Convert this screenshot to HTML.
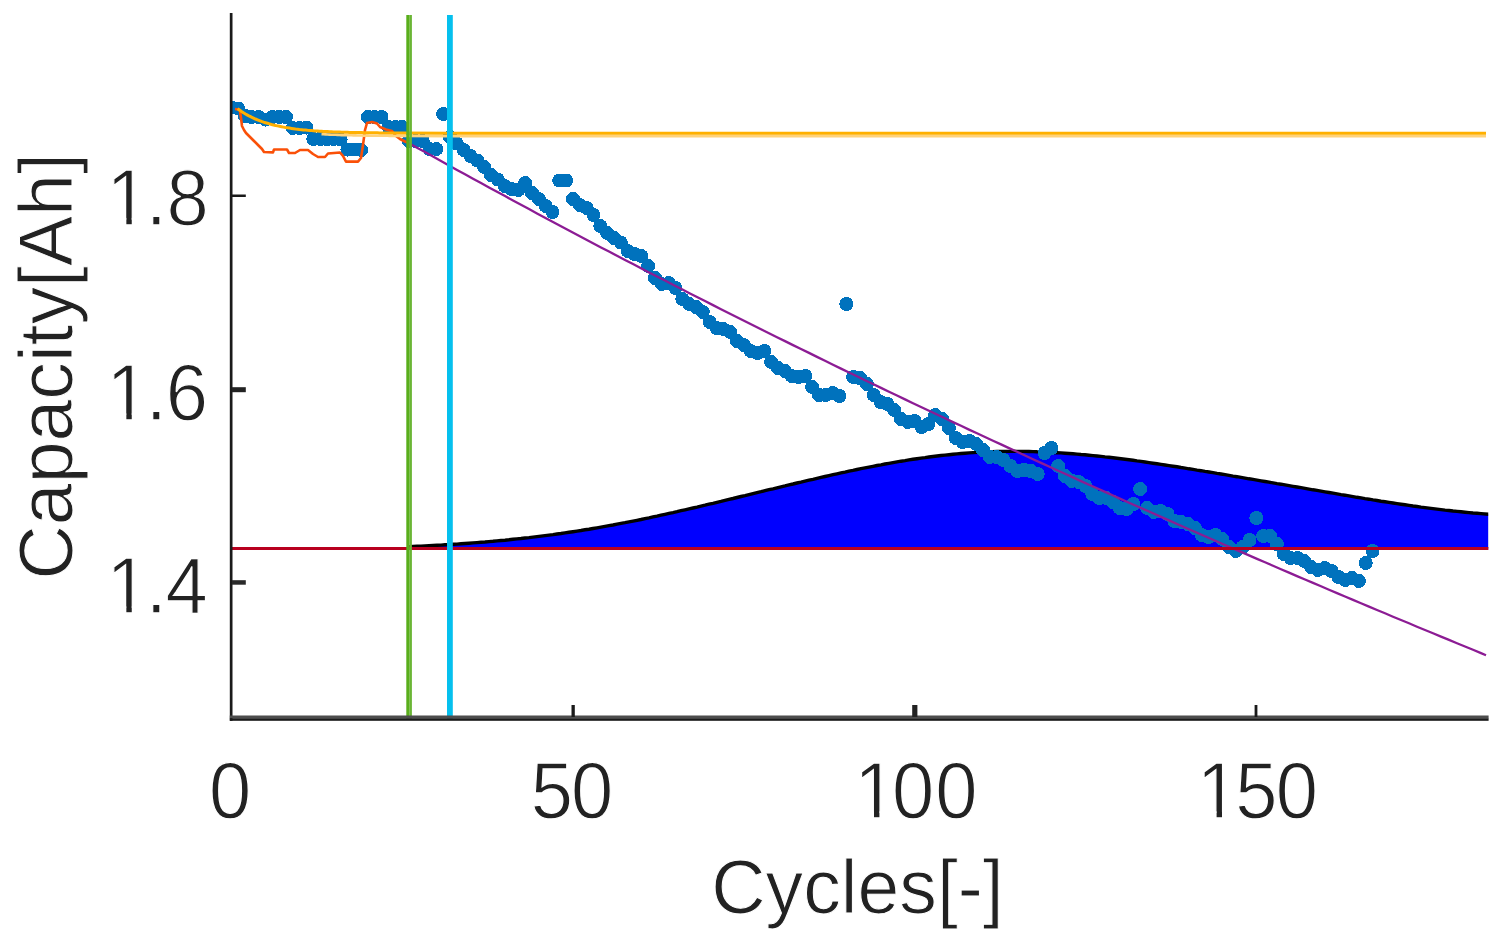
<!DOCTYPE html>
<html><head><meta charset="utf-8"><title>Capacity vs Cycles</title>
<style>html,body{margin:0;padding:0;background:#fff;}body{width:1508px;height:948px;overflow:hidden;}svg{display:block;}</style>
</head><body>
<svg width="1508" height="948" viewBox="0 0 1508 948">
<defs><clipPath id="ax"><rect x="230" y="13" width="1258.5" height="706"/></clipPath></defs>
<rect width="1508" height="948" fill="#ffffff"/>
<g clip-path="url(#ax)">
<path d="M409,548.5 L409.0,546.6 L413.0,546.4 L417.0,546.2 L421.0,546.1 L425.0,545.9 L429.0,545.7 L433.0,545.5 L437.0,545.3 L441.0,545.1 L445.0,544.8 L449.0,544.6 L453.0,544.3 L457.0,544.1 L461.0,543.8 L465.0,543.5 L469.0,543.2 L473.0,542.9 L477.0,542.6 L481.0,542.3 L485.0,542.0 L489.0,541.6 L493.0,541.3 L497.0,540.9 L501.0,540.5 L505.0,540.2 L509.0,539.8 L513.0,539.3 L517.0,538.9 L521.0,538.5 L525.0,538.0 L529.0,537.6 L533.0,537.1 L537.0,536.6 L541.0,536.1 L545.0,535.6 L549.0,535.1 L553.0,534.6 L557.0,534.0 L561.0,533.5 L565.0,532.9 L569.0,532.3 L573.0,531.7 L577.0,531.1 L581.0,530.5 L585.0,529.8 L589.0,529.2 L593.0,528.5 L597.0,527.8 L601.0,527.1 L605.0,526.4 L609.0,525.7 L613.0,525.0 L617.0,524.2 L621.0,523.4 L625.0,522.7 L629.0,521.9 L633.0,521.1 L637.0,520.3 L641.0,519.5 L645.0,518.6 L649.0,517.8 L653.0,516.9 L657.0,516.1 L661.0,515.2 L665.0,514.3 L669.0,513.4 L673.0,512.6 L677.0,511.7 L681.0,510.7 L685.0,509.8 L689.0,508.9 L693.0,508.0 L697.0,507.1 L701.0,506.1 L705.0,505.2 L709.0,504.2 L713.0,503.3 L717.0,502.3 L721.0,501.4 L725.0,500.4 L729.0,499.4 L733.0,498.5 L737.0,497.5 L741.0,496.5 L745.0,495.6 L749.0,494.6 L753.0,493.6 L757.0,492.6 L761.0,491.7 L765.0,490.7 L769.0,489.7 L773.0,488.8 L777.0,487.8 L781.0,486.8 L785.0,485.9 L789.0,484.9 L793.0,484.0 L797.0,483.0 L801.0,482.1 L805.0,481.1 L809.0,480.2 L813.0,479.3 L817.0,478.3 L821.0,477.4 L825.0,476.5 L829.0,475.6 L833.0,474.7 L837.0,473.8 L841.0,472.9 L845.0,472.1 L849.0,471.2 L853.0,470.4 L857.0,469.5 L861.0,468.7 L865.0,467.9 L869.0,467.1 L873.0,466.3 L877.0,465.5 L881.0,464.8 L885.0,464.0 L889.0,463.3 L893.0,462.6 L897.0,461.9 L901.0,461.2 L905.0,460.6 L909.0,459.9 L913.0,459.3 L917.0,458.7 L921.0,458.1 L925.0,457.6 L929.0,457.0 L933.0,456.5 L937.0,456.0 L941.0,455.5 L945.0,455.1 L949.0,454.7 L953.0,454.3 L957.0,453.9 L961.0,453.5 L965.0,453.2 L969.0,452.9 L973.0,452.6 L977.0,452.4 L981.0,452.2 L985.0,452.0 L989.0,451.8 L993.0,451.7 L997.0,451.5 L1001.0,451.5 L1005.0,451.4 L1009.0,451.4 L1013.0,451.3 L1017.0,451.4 L1021.0,451.4 L1025.0,451.4 L1029.0,451.5 L1033.0,451.6 L1037.0,451.8 L1041.0,451.9 L1045.0,452.1 L1049.0,452.3 L1053.0,452.5 L1057.0,452.7 L1061.0,452.9 L1065.0,453.2 L1069.0,453.5 L1073.0,453.8 L1077.0,454.1 L1081.0,454.5 L1085.0,454.8 L1089.0,455.2 L1093.0,455.6 L1097.0,456.0 L1101.0,456.4 L1105.0,456.9 L1109.0,457.3 L1113.0,457.8 L1117.0,458.3 L1121.0,458.8 L1125.0,459.3 L1129.0,459.8 L1133.0,460.3 L1137.0,460.9 L1141.0,461.4 L1145.0,462.0 L1149.0,462.6 L1153.0,463.2 L1157.0,463.8 L1161.0,464.4 L1165.0,465.0 L1169.0,465.6 L1173.0,466.2 L1177.0,466.8 L1181.0,467.5 L1185.0,468.1 L1189.0,468.8 L1193.0,469.4 L1197.0,470.1 L1201.0,470.7 L1205.0,471.4 L1209.0,472.0 L1213.0,472.7 L1217.0,473.4 L1221.0,474.0 L1225.0,474.7 L1229.0,475.4 L1233.0,476.1 L1237.0,476.7 L1241.0,477.4 L1245.0,478.1 L1249.0,478.8 L1253.0,479.4 L1257.0,480.1 L1261.0,480.8 L1265.0,481.5 L1269.0,482.2 L1273.0,482.9 L1277.0,483.6 L1281.0,484.2 L1285.0,484.9 L1289.0,485.6 L1293.0,486.3 L1297.0,487.0 L1301.0,487.7 L1305.0,488.4 L1309.0,489.1 L1313.0,489.8 L1317.0,490.4 L1321.0,491.1 L1325.0,491.8 L1329.0,492.5 L1333.0,493.2 L1337.0,493.9 L1341.0,494.6 L1345.0,495.2 L1349.0,495.9 L1353.0,496.6 L1357.0,497.3 L1361.0,497.9 L1365.0,498.6 L1369.0,499.2 L1373.0,499.9 L1377.0,500.5 L1381.0,501.2 L1385.0,501.8 L1389.0,502.4 L1393.0,503.0 L1397.0,503.6 L1401.0,504.2 L1405.0,504.8 L1409.0,505.4 L1413.0,506.0 L1417.0,506.5 L1421.0,507.1 L1425.0,507.6 L1429.0,508.1 L1433.0,508.6 L1437.0,509.1 L1441.0,509.6 L1445.0,510.1 L1449.0,510.5 L1453.0,511.0 L1457.0,511.4 L1461.0,511.8 L1465.0,512.2 L1469.0,512.6 L1473.0,513.0 L1477.0,513.3 L1481.0,513.6 L1488.4,514.2 L1488.4,548.5 Z" fill="#0000ff"/>
<path d="M409.0,546.6 L413.0,546.4 L417.0,546.2 L421.0,546.1 L425.0,545.9 L429.0,545.7 L433.0,545.5 L437.0,545.3 L441.0,545.1 L445.0,544.8 L449.0,544.6 L453.0,544.3 L457.0,544.1 L461.0,543.8 L465.0,543.5 L469.0,543.2 L473.0,542.9 L477.0,542.6 L481.0,542.3 L485.0,542.0 L489.0,541.6 L493.0,541.3 L497.0,540.9 L501.0,540.5 L505.0,540.2 L509.0,539.8 L513.0,539.3 L517.0,538.9 L521.0,538.5 L525.0,538.0 L529.0,537.6 L533.0,537.1 L537.0,536.6 L541.0,536.1 L545.0,535.6 L549.0,535.1 L553.0,534.6 L557.0,534.0 L561.0,533.5 L565.0,532.9 L569.0,532.3 L573.0,531.7 L577.0,531.1 L581.0,530.5 L585.0,529.8 L589.0,529.2 L593.0,528.5 L597.0,527.8 L601.0,527.1 L605.0,526.4 L609.0,525.7 L613.0,525.0 L617.0,524.2 L621.0,523.4 L625.0,522.7 L629.0,521.9 L633.0,521.1 L637.0,520.3 L641.0,519.5 L645.0,518.6 L649.0,517.8 L653.0,516.9 L657.0,516.1 L661.0,515.2 L665.0,514.3 L669.0,513.4 L673.0,512.6 L677.0,511.7 L681.0,510.7 L685.0,509.8 L689.0,508.9 L693.0,508.0 L697.0,507.1 L701.0,506.1 L705.0,505.2 L709.0,504.2 L713.0,503.3 L717.0,502.3 L721.0,501.4 L725.0,500.4 L729.0,499.4 L733.0,498.5 L737.0,497.5 L741.0,496.5 L745.0,495.6 L749.0,494.6 L753.0,493.6 L757.0,492.6 L761.0,491.7 L765.0,490.7 L769.0,489.7 L773.0,488.8 L777.0,487.8 L781.0,486.8 L785.0,485.9 L789.0,484.9 L793.0,484.0 L797.0,483.0 L801.0,482.1 L805.0,481.1 L809.0,480.2 L813.0,479.3 L817.0,478.3 L821.0,477.4 L825.0,476.5 L829.0,475.6 L833.0,474.7 L837.0,473.8 L841.0,472.9 L845.0,472.1 L849.0,471.2 L853.0,470.4 L857.0,469.5 L861.0,468.7 L865.0,467.9 L869.0,467.1 L873.0,466.3 L877.0,465.5 L881.0,464.8 L885.0,464.0 L889.0,463.3 L893.0,462.6 L897.0,461.9 L901.0,461.2 L905.0,460.6 L909.0,459.9 L913.0,459.3 L917.0,458.7 L921.0,458.1 L925.0,457.6 L929.0,457.0 L933.0,456.5 L937.0,456.0 L941.0,455.5 L945.0,455.1 L949.0,454.7 L953.0,454.3 L957.0,453.9 L961.0,453.5 L965.0,453.2 L969.0,452.9 L973.0,452.6 L977.0,452.4 L981.0,452.2 L985.0,452.0 L989.0,451.8 L993.0,451.7 L997.0,451.5 L1001.0,451.5 L1005.0,451.4 L1009.0,451.4 L1013.0,451.3 L1017.0,451.4 L1021.0,451.4 L1025.0,451.4 L1029.0,451.5 L1033.0,451.6 L1037.0,451.8 L1041.0,451.9 L1045.0,452.1 L1049.0,452.3 L1053.0,452.5 L1057.0,452.7 L1061.0,452.9 L1065.0,453.2 L1069.0,453.5 L1073.0,453.8 L1077.0,454.1 L1081.0,454.5 L1085.0,454.8 L1089.0,455.2 L1093.0,455.6 L1097.0,456.0 L1101.0,456.4 L1105.0,456.9 L1109.0,457.3 L1113.0,457.8 L1117.0,458.3 L1121.0,458.8 L1125.0,459.3 L1129.0,459.8 L1133.0,460.3 L1137.0,460.9 L1141.0,461.4 L1145.0,462.0 L1149.0,462.6 L1153.0,463.2 L1157.0,463.8 L1161.0,464.4 L1165.0,465.0 L1169.0,465.6 L1173.0,466.2 L1177.0,466.8 L1181.0,467.5 L1185.0,468.1 L1189.0,468.8 L1193.0,469.4 L1197.0,470.1 L1201.0,470.7 L1205.0,471.4 L1209.0,472.0 L1213.0,472.7 L1217.0,473.4 L1221.0,474.0 L1225.0,474.7 L1229.0,475.4 L1233.0,476.1 L1237.0,476.7 L1241.0,477.4 L1245.0,478.1 L1249.0,478.8 L1253.0,479.4 L1257.0,480.1 L1261.0,480.8 L1265.0,481.5 L1269.0,482.2 L1273.0,482.9 L1277.0,483.6 L1281.0,484.2 L1285.0,484.9 L1289.0,485.6 L1293.0,486.3 L1297.0,487.0 L1301.0,487.7 L1305.0,488.4 L1309.0,489.1 L1313.0,489.8 L1317.0,490.4 L1321.0,491.1 L1325.0,491.8 L1329.0,492.5 L1333.0,493.2 L1337.0,493.9 L1341.0,494.6 L1345.0,495.2 L1349.0,495.9 L1353.0,496.6 L1357.0,497.3 L1361.0,497.9 L1365.0,498.6 L1369.0,499.2 L1373.0,499.9 L1377.0,500.5 L1381.0,501.2 L1385.0,501.8 L1389.0,502.4 L1393.0,503.0 L1397.0,503.6 L1401.0,504.2 L1405.0,504.8 L1409.0,505.4 L1413.0,506.0 L1417.0,506.5 L1421.0,507.1 L1425.0,507.6 L1429.0,508.1 L1433.0,508.6 L1437.0,509.1 L1441.0,509.6 L1445.0,510.1 L1449.0,510.5 L1453.0,511.0 L1457.0,511.4 L1461.0,511.8 L1465.0,512.2 L1469.0,512.6 L1473.0,513.0 L1477.0,513.3 L1481.0,513.6 L1488.4,514.2" fill="none" stroke="#000000" stroke-width="3.4"/>
<g fill="#0072bd" shape-rendering="crispEdges"><circle cx="231.3" cy="107.5" r="7.0"/><circle cx="238.1" cy="108.5" r="7.0"/><circle cx="245.0" cy="116.0" r="7.0"/><circle cx="251.8" cy="117.0" r="7.0"/><circle cx="258.6" cy="117.0" r="7.0"/><circle cx="265.5" cy="119.5" r="7.0"/><circle cx="272.3" cy="117.0" r="7.0"/><circle cx="279.1" cy="117.0" r="7.0"/><circle cx="286.0" cy="117.0" r="7.0"/><circle cx="292.8" cy="128.0" r="7.0"/><circle cx="299.6" cy="128.0" r="7.0"/><circle cx="306.5" cy="127.5" r="7.0"/><circle cx="313.3" cy="139.0" r="7.0"/><circle cx="320.1" cy="139.0" r="7.0"/><circle cx="327.0" cy="139.0" r="7.0"/><circle cx="333.8" cy="139.0" r="7.0"/><circle cx="340.6" cy="139.5" r="7.0"/><circle cx="347.5" cy="149.5" r="7.0"/><circle cx="354.3" cy="149.5" r="7.0"/><circle cx="361.1" cy="150.0" r="7.0"/><circle cx="368.0" cy="117.0" r="7.0"/><circle cx="374.8" cy="117.0" r="7.0"/><circle cx="381.6" cy="117.0" r="7.0"/><circle cx="388.5" cy="127.0" r="7.0"/><circle cx="395.3" cy="127.0" r="7.0"/><circle cx="402.1" cy="127.0" r="7.0"/><circle cx="409.0" cy="141.0" r="7.0"/><circle cx="415.8" cy="141.0" r="7.0"/><circle cx="422.7" cy="141.0" r="7.0"/><circle cx="429.5" cy="149.0" r="7.0"/><circle cx="436.3" cy="149.0" r="7.0"/><circle cx="443.2" cy="114.0" r="7.0"/><circle cx="450.0" cy="137.0" r="7.0"/><circle cx="456.8" cy="143.5" r="7.0"/><circle cx="463.7" cy="150.0" r="7.0"/><circle cx="470.5" cy="156.0" r="7.0"/><circle cx="477.3" cy="160.5" r="7.0"/><circle cx="484.2" cy="167.0" r="7.0"/><circle cx="491.0" cy="175.0" r="7.0"/><circle cx="497.8" cy="179.5" r="7.0"/><circle cx="504.7" cy="186.0" r="7.0"/><circle cx="511.5" cy="189.0" r="7.0"/><circle cx="518.3" cy="190.0" r="7.0"/><circle cx="525.2" cy="183.0" r="7.0"/><circle cx="532.0" cy="193.0" r="7.0"/><circle cx="538.8" cy="199.0" r="7.0"/><circle cx="545.7" cy="206.0" r="7.0"/><circle cx="552.5" cy="212.0" r="7.0"/><circle cx="559.3" cy="180.5" r="7.0"/><circle cx="566.2" cy="180.5" r="7.0"/><circle cx="573.0" cy="199.0" r="7.0"/><circle cx="579.8" cy="205.0" r="7.0"/><circle cx="586.7" cy="208.0" r="7.0"/><circle cx="593.5" cy="215.0" r="7.0"/><circle cx="600.3" cy="226.0" r="7.0"/><circle cx="607.2" cy="233.0" r="7.0"/><circle cx="614.0" cy="238.0" r="7.0"/><circle cx="620.8" cy="242.5" r="7.0"/><circle cx="627.7" cy="251.0" r="7.0"/><circle cx="634.5" cy="254.0" r="7.0"/><circle cx="641.3" cy="256.0" r="7.0"/><circle cx="648.2" cy="266.0" r="7.0"/><circle cx="655.0" cy="278.0" r="7.0"/><circle cx="661.8" cy="284.0" r="7.0"/><circle cx="668.7" cy="283.0" r="7.0"/><circle cx="675.5" cy="288.0" r="7.0"/><circle cx="682.3" cy="299.0" r="7.0"/><circle cx="689.2" cy="304.0" r="7.0"/><circle cx="696.0" cy="307.0" r="7.0"/><circle cx="702.8" cy="312.0" r="7.0"/><circle cx="709.7" cy="322.0" r="7.0"/><circle cx="716.5" cy="328.0" r="7.0"/><circle cx="723.3" cy="329.0" r="7.0"/><circle cx="730.2" cy="332.0" r="7.0"/><circle cx="737.0" cy="341.0" r="7.0"/><circle cx="743.8" cy="345.0" r="7.0"/><circle cx="750.7" cy="351.0" r="7.0"/><circle cx="757.5" cy="353.0" r="7.0"/><circle cx="764.4" cy="351.0" r="7.0"/><circle cx="771.2" cy="362.0" r="7.0"/><circle cx="778.0" cy="368.0" r="7.0"/><circle cx="784.9" cy="371.0" r="7.0"/><circle cx="791.7" cy="376.0" r="7.0"/><circle cx="798.5" cy="377.0" r="7.0"/><circle cx="805.4" cy="376.0" r="7.0"/><circle cx="812.2" cy="387.0" r="7.0"/><circle cx="819.0" cy="395.0" r="7.0"/><circle cx="825.9" cy="395.0" r="7.0"/><circle cx="832.7" cy="393.0" r="7.0"/><circle cx="839.5" cy="396.0" r="7.0"/><circle cx="846.4" cy="304.0" r="7.0"/><circle cx="853.2" cy="377.0" r="7.0"/><circle cx="860.0" cy="378.0" r="7.0"/><circle cx="866.9" cy="384.0" r="7.0"/><circle cx="873.7" cy="395.0" r="7.0"/><circle cx="880.5" cy="402.0" r="7.0"/><circle cx="887.4" cy="404.0" r="7.0"/><circle cx="894.2" cy="410.0" r="7.0"/><circle cx="901.0" cy="419.0" r="7.0"/><circle cx="907.9" cy="422.0" r="7.0"/><circle cx="914.7" cy="421.0" r="7.0"/><circle cx="921.5" cy="427.0" r="7.0"/><circle cx="928.4" cy="424.0" r="7.0"/><circle cx="935.2" cy="415.0" r="7.0"/><circle cx="942.0" cy="419.0" r="7.0"/><circle cx="948.9" cy="428.0" r="7.0"/><circle cx="955.7" cy="438.0" r="7.0"/><circle cx="962.5" cy="442.0" r="7.0"/><circle cx="969.4" cy="441.0" r="7.0"/><circle cx="976.2" cy="444.0" r="7.0"/><circle cx="983.0" cy="450.0" r="7.0"/><circle cx="989.9" cy="457.0" r="7.0"/><circle cx="996.7" cy="457.0" r="7.0"/><circle cx="1003.5" cy="460.0" r="7.0"/><circle cx="1010.4" cy="466.0" r="7.0"/><circle cx="1017.2" cy="471.0" r="7.0"/><circle cx="1024.0" cy="470.0" r="7.0"/><circle cx="1030.9" cy="471.0" r="7.0"/><circle cx="1037.7" cy="474.0" r="7.0"/><circle cx="1044.5" cy="453.0" r="7.0"/><circle cx="1051.4" cy="448.0" r="7.0"/><circle cx="1058.2" cy="466.0" r="7.0"/><circle cx="1065.0" cy="476.0" r="7.0"/><circle cx="1071.9" cy="481.0" r="7.0"/><circle cx="1078.7" cy="482.0" r="7.0"/><circle cx="1085.5" cy="486.0" r="7.0"/><circle cx="1092.4" cy="494.0" r="7.0"/><circle cx="1099.2" cy="498.0" r="7.0"/><circle cx="1106.1" cy="498.0" r="7.0"/><circle cx="1112.9" cy="502.0" r="7.0"/><circle cx="1119.7" cy="508.0" r="7.0"/><circle cx="1126.6" cy="509.0" r="7.0"/><circle cx="1133.4" cy="504.0" r="7.0"/><circle cx="1140.2" cy="489.0" r="7.0"/><circle cx="1147.1" cy="508.0" r="7.0"/><circle cx="1153.9" cy="512.0" r="7.0"/><circle cx="1160.7" cy="511.0" r="7.0"/><circle cx="1167.6" cy="514.0" r="7.0"/><circle cx="1174.4" cy="521.0" r="7.0"/><circle cx="1181.2" cy="522.0" r="7.0"/><circle cx="1188.1" cy="524.0" r="7.0"/><circle cx="1194.9" cy="528.0" r="7.0"/><circle cx="1201.7" cy="535.0" r="7.0"/><circle cx="1208.6" cy="537.0" r="7.0"/><circle cx="1215.4" cy="535.0" r="7.0"/><circle cx="1222.2" cy="539.0" r="7.0"/><circle cx="1229.1" cy="547.0" r="7.0"/><circle cx="1235.9" cy="551.0" r="7.0"/><circle cx="1242.7" cy="547.0" r="7.0"/><circle cx="1249.6" cy="540.0" r="7.0"/><circle cx="1256.4" cy="518.0" r="7.0"/><circle cx="1263.2" cy="536.0" r="7.0"/><circle cx="1270.1" cy="536.0" r="7.0"/><circle cx="1276.9" cy="544.0" r="7.0"/><circle cx="1283.7" cy="554.0" r="7.0"/><circle cx="1290.6" cy="558.0" r="7.0"/><circle cx="1297.4" cy="558.0" r="7.0"/><circle cx="1304.2" cy="561.0" r="7.0"/><circle cx="1311.1" cy="567.0" r="7.0"/><circle cx="1317.9" cy="570.0" r="7.0"/><circle cx="1324.7" cy="568.0" r="7.0"/><circle cx="1331.6" cy="571.0" r="7.0"/><circle cx="1338.4" cy="577.0" r="7.0"/><circle cx="1345.2" cy="580.0" r="7.0"/><circle cx="1352.1" cy="578.0" r="7.0"/><circle cx="1358.9" cy="581.0" r="7.0"/><circle cx="1365.7" cy="563.0" r="7.0"/><circle cx="1372.6" cy="551.0" r="7.0"/></g>
<path d="M235.0,109.0 L238.5,109.5 L240.0,111.0 L241.0,118.0 L242.0,126.0 L244.0,130.0 L246.0,133.0 L250.0,137.0 L254.0,141.0 L258.0,145.0 L262.0,149.0 L264.0,152.0 L273.0,152.4 L274.0,149.5 L287.0,149.5 L289.0,153.0 L295.0,153.0 L300.0,150.0 L308.0,150.0 L313.0,154.0 L318.0,157.0 L325.0,157.0 L328.0,153.5 L340.0,152.5 L343.0,156.0 L346.0,161.6 L358.0,161.6 L361.0,158.0 L363.0,145.0 L365.0,130.0 L367.0,123.0 L372.0,122.0 L377.0,123.5 L380.0,127.0 L386.0,129.5 L392.0,131.0 L396.0,136.0 L400.0,139.0 L405.0,141.5 L409.0,143.0" fill="none" stroke="#fa5008" stroke-width="2.6" stroke-linejoin="round"/>
<path d="M321.5,134.2 L323.5,134.3 L325.5,134.4 L327.5,134.5 L329.5,134.6 L331.5,134.7 L333.5,134.8 L335.5,134.8 L337.5,134.9 L339.5,135.0 L341.5,135.1 L343.5,135.1 L345.5,135.2 L347.5,135.2 L349.5,135.3 L351.5,135.3 L353.5,135.4 L355.5,135.4 L357.5,135.5 L359.5,135.5 L361.5,135.5 L363.5,135.6 L365.5,135.6 L367.5,135.6 L369.5,135.7 L371.5,135.7 L373.5,135.7 L375.5,135.7 L377.5,135.7 L379.5,135.8 L381.5,135.8 L383.5,135.8 L385.5,135.8 L387.5,135.8 L389.5,135.9 L391.5,135.9 L393.5,135.9 L395.5,135.9 L397.5,135.9 L399.5,135.9 L401.5,135.9 L451.5,136.1 L501.5,136.1 L551.5,136.1 L601.5,136.1 L651.5,136.1 L701.5,136.1 L751.5,136.1 L801.5,136.1 L851.5,136.1 L901.5,136.1 L951.5,136.1 L1001.5,136.1 L1051.5,136.1 L1101.5,136.1 L1151.5,136.1 L1201.5,136.1 L1251.5,136.1 L1301.5,136.1 L1351.5,136.1 L1401.5,136.1 L1451.5,136.1 L1486.0,136.1" fill="none" stroke="#ffd27a" stroke-width="2.6"/>
<path d="M237.5,108.7 L239.5,110.1 L241.5,111.5 L243.5,112.8 L245.5,114.0 L247.5,115.1 L249.5,116.2 L251.5,117.2 L253.5,118.1 L255.5,119.0 L257.5,119.8 L259.5,120.6 L261.5,121.4 L263.5,122.1 L265.5,122.7 L267.5,123.3 L269.5,123.9 L271.5,124.5 L273.5,125.0 L275.5,125.5 L277.5,125.9 L279.5,126.3 L281.5,126.7 L283.5,127.1 L285.5,127.5 L287.5,127.8 L289.5,128.1 L291.5,128.4 L293.5,128.7 L295.5,129.0 L297.5,129.2 L299.5,129.5 L301.5,129.7 L303.5,129.9 L305.5,130.1 L307.5,130.3 L309.5,130.4 L311.5,130.6 L313.5,130.8 L315.5,130.9 L317.5,131.0 L319.5,131.2 L321.5,131.3 L323.5,131.4 L325.5,131.5 L327.5,131.6 L329.5,131.7 L331.5,131.8 L333.5,131.9 L335.5,131.9 L337.5,132.0 L339.5,132.1 L341.5,132.2 L343.5,132.2 L345.5,132.3 L347.5,132.3 L349.5,132.4 L351.5,132.4 L353.5,132.5 L355.5,132.5 L357.5,132.6 L359.5,132.6 L361.5,132.6 L363.5,132.7 L365.5,132.7 L367.5,132.7 L369.5,132.8 L371.5,132.8 L373.5,132.8 L375.5,132.8 L377.5,132.8 L379.5,132.9 L381.5,132.9 L383.5,132.9 L385.5,132.9 L387.5,132.9 L389.5,133.0 L391.5,133.0 L393.5,133.0 L395.5,133.0 L397.5,133.0 L399.5,133.0 L401.5,133.0 L451.5,133.2 L501.5,133.2 L551.5,133.2 L601.5,133.2 L651.5,133.2 L701.5,133.2 L751.5,133.2 L801.5,133.2 L851.5,133.2 L901.5,133.2 L951.5,133.2 L1001.5,133.2 L1051.5,133.2 L1101.5,133.2 L1151.5,133.2 L1201.5,133.2 L1251.5,133.2 L1301.5,133.2 L1351.5,133.2 L1401.5,133.2 L1451.5,133.2 L1486.0,133.2" fill="none" stroke="#ffb000" stroke-width="3"/>
<path d="M409.0,143.2 L417.0,147.7 L425.0,152.1 L433.0,156.6 L441.0,161.0 L449.0,165.5 L457.0,169.9 L465.0,174.3 L473.0,178.7 L481.0,183.1 L489.0,187.4 L497.0,191.8 L505.0,196.1 L513.0,200.5 L521.0,204.8 L529.0,209.1 L537.0,213.4 L545.0,217.7 L553.0,222.0 L561.0,226.2 L569.0,230.5 L577.0,234.7 L585.0,239.0 L593.0,243.2 L601.0,247.4 L609.0,251.6 L617.0,255.8 L625.0,259.9 L633.0,264.1 L641.0,268.2 L649.0,272.4 L657.0,276.5 L665.0,280.6 L673.0,284.7 L681.0,288.8 L689.0,292.9 L697.0,297.0 L705.0,301.1 L713.0,305.1 L721.0,309.2 L729.0,313.2 L737.0,317.2 L745.0,321.2 L753.0,325.2 L761.0,329.2 L769.0,333.2 L777.0,337.2 L785.0,341.1 L793.0,345.1 L801.0,349.0 L809.0,352.9 L817.0,356.9 L825.0,360.8 L833.0,364.7 L841.0,368.6 L849.0,372.5 L857.0,376.3 L865.0,380.2 L873.0,384.0 L881.0,387.9 L889.0,391.7 L897.0,395.5 L905.0,399.4 L913.0,403.2 L921.0,407.0 L929.0,410.8 L937.0,414.5 L945.0,418.3 L953.0,422.1 L961.0,425.8 L969.0,429.6 L977.0,433.3 L985.0,437.0 L993.0,440.7 L1001.0,444.4 L1009.0,448.1 L1017.0,451.8 L1025.0,455.5 L1033.0,459.2 L1041.0,462.9 L1049.0,466.5 L1057.0,470.2 L1065.0,473.8 L1073.0,477.4 L1081.0,481.1 L1089.0,484.7 L1097.0,488.3 L1105.0,491.9 L1113.0,495.5 L1121.0,499.1 L1129.0,502.7 L1137.0,506.2 L1145.0,509.8 L1153.0,513.3 L1161.0,516.9 L1169.0,520.4 L1177.0,524.0 L1185.0,527.5 L1193.0,531.0 L1201.0,534.5 L1209.0,538.0 L1217.0,541.5 L1225.0,545.0 L1233.0,548.5 L1241.0,551.9 L1249.0,555.4 L1257.0,558.9 L1265.0,562.3 L1273.0,565.8 L1281.0,569.2 L1289.0,572.6 L1297.0,576.1 L1305.0,579.5 L1313.0,582.9 L1321.0,586.3 L1329.0,589.7 L1337.0,593.1 L1345.0,596.5 L1353.0,599.9 L1361.0,603.2 L1369.0,606.6 L1377.0,610.0 L1385.0,613.3 L1393.0,616.7 L1401.0,620.0 L1409.0,623.3 L1417.0,626.7 L1425.0,630.0 L1433.0,633.3 L1441.0,636.6 L1449.0,639.9 L1457.0,643.2 L1465.0,646.5 L1473.0,649.8 L1481.0,653.1 L1486.0,655.2" fill="none" stroke="#8c1c94" stroke-width="2.3"/>
</g>
<rect x="230" y="547" width="1258.4" height="3" fill="#b8001f"/>
<rect x="406.3" y="15" width="2.9" height="703.5" fill="#59ae1b"/><rect x="409.2" y="15" width="2.7" height="703.5" fill="#6ab535"/>
<rect x="447" y="15" width="5.8" height="703.5" fill="#05c0ee"/>
<rect x="229.8" y="13" width="2.7" height="707.8" fill="#1a1a1a"/>
<rect x="229.8" y="715.5" width="1258.8" height="3" fill="#4d4d4d"/>
<rect x="229.8" y="718.3" width="1258.8" height="2.5" fill="#1a1a1a"/>
<rect x="232" y="194.5" width="13.8" height="2.5" fill="#1a1a1a"/>
<rect x="232" y="387.2" width="13.8" height="5" fill="#222"/>
<rect x="232" y="580.2" width="13.8" height="4.5" fill="#2a2a2a"/>
<rect x="571.5" y="705" width="3.3" height="12" fill="#1a1a1a"/>
<rect x="912.2" y="705" width="5.2" height="12" fill="#222"/>
<rect x="1254.6" y="705" width="2.8" height="12" fill="#1a1a1a"/>
<g fill="#222222" font-family="'Liberation Sans', Arial, Helvetica, sans-serif" font-size="76" stroke="#ffffff" stroke-width="1.2">
<text transform="translate(0,224.5) scale(1,1.045)"><tspan x="106.55">1</tspan><tspan x="145.80">.</tspan><tspan x="166.50">8</tspan></text>
<text transform="translate(0,420.0) scale(1,1.045)"><tspan x="106.55">1</tspan><tspan x="145.80">.</tspan><tspan x="165.80">6</tspan></text>
<text transform="translate(0,613.0) scale(1,1.045)"><tspan x="106.55">1</tspan><tspan x="145.80">.</tspan><tspan x="165.60">4</tspan></text>
<text transform="translate(0,818.0) scale(1,1.045)"><tspan x="209.10">0</tspan></text>
<text transform="translate(0,818.0) scale(1,1.045)"><tspan x="530.75">5</tspan><tspan x="571.05">0</tspan></text>
<text transform="translate(0,818.0) scale(1,1.045)"><tspan x="854.20">1</tspan><tspan x="892.10">0</tspan><tspan x="935.15">0</tspan></text>
<text transform="translate(0,818.0) scale(1,1.045)"><tspan x="1196.80">1</tspan><tspan x="1235.15">5</tspan><tspan x="1275.65">0</tspan></text>

</g>
<g fill="#ffffff"><rect x="111.55" y="217.90" width="14.8" height="7.1"/><rect x="131.75" y="217.90" width="14" height="7.1"/><rect x="111.55" y="413.40" width="14.8" height="7.1"/><rect x="131.75" y="413.40" width="14" height="7.1"/><rect x="111.55" y="606.40" width="14.8" height="7.1"/><rect x="131.75" y="606.40" width="14" height="7.1"/><rect x="859.20" y="811.40" width="14.8" height="7.1"/><rect x="879.40" y="811.40" width="14" height="7.1"/><rect x="1201.80" y="811.40" width="14.8" height="7.1"/><rect x="1222.00" y="811.40" width="14" height="7.1"/></g>
<g fill="#222222" font-family="'Liberation Sans', Arial, Helvetica, sans-serif" font-size="75.2" stroke="#ffffff" stroke-width="1.0">
<text x="857.5" y="913.3" text-anchor="middle">Cycles[-]</text>
<text transform="translate(71.5,366.3) rotate(-90)" text-anchor="middle">Capacity[Ah]</text>
</g>
</svg>
</body></html>
